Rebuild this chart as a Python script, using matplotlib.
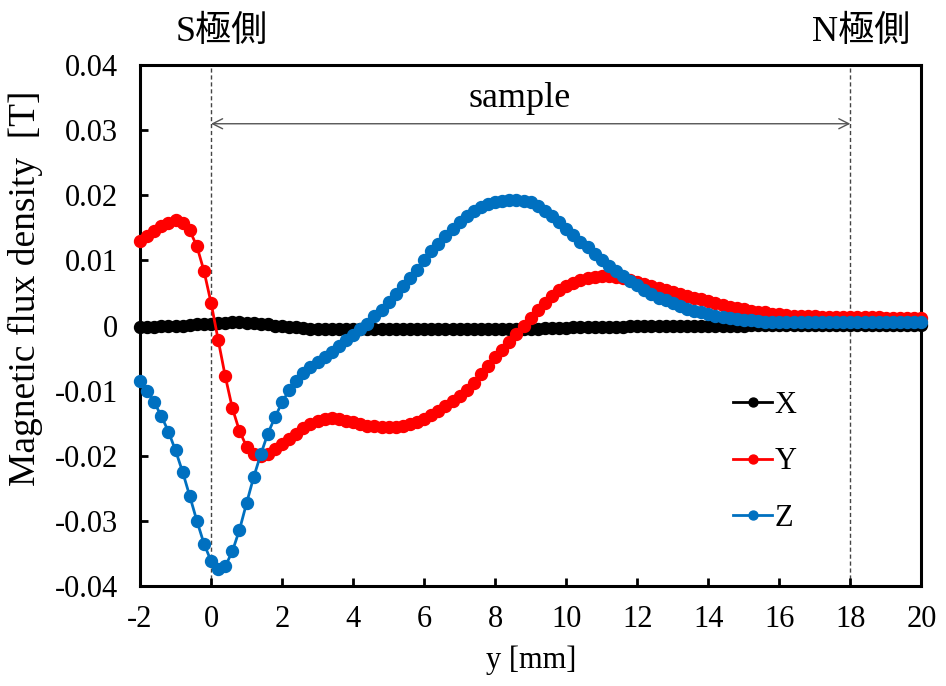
import numpy as np
import matplotlib
matplotlib.use("Agg")
import matplotlib.pyplot as plt
from matplotlib.ticker import FuncFormatter

plt.rcParams['font.family'] = ['Liberation Serif', 'Noto Sans CJK JP']
plt.rcParams['axes.unicode_minus'] = False

# Position along the sample [mm], 0.2 mm step
pos_mm = np.round(np.arange(-2.0, 20.0001, 0.2), 1)

# Flux density components [T]
bx = [
    -0.0003, -0.0002, -0.0002, -0.0001, -0.0001, 0.0000, 0.0000, 0.0001, 0.0002, 0.0002,
    0.0003, 0.0004, 0.0004, 0.0005, 0.0005, 0.0004, 0.0004, 0.0003, 0.0002, 0.0000,
    -0.0001, -0.0002, -0.0003, -0.0004, -0.0005, -0.0005, -0.0006, -0.0006, -0.0006, -0.0006,
    -0.0006, -0.0006, -0.0006, -0.0006, -0.0006, -0.0006, -0.0006, -0.0006, -0.0006, -0.0006,
    -0.0006, -0.0006, -0.0006, -0.0006, -0.0006, -0.0006, -0.0006, -0.0006, -0.0006, -0.0006,
    -0.0006, -0.0006, -0.0006, -0.0005, -0.0005, -0.0005, -0.0005, -0.0004, -0.0004, -0.0004,
    -0.0004, -0.0003, -0.0003, -0.0003, -0.0003, -0.0002, -0.0002, -0.0002, -0.0002, -0.0001,
    -0.0001, -0.0001, -0.0001, -0.0001, 0.0000, 0.0000, 0.0000, 0.0000, 0.0000, 0.0000,
    0.0000, 0.0000, 0.0000, 0.0000, 0.0000, 0.0000, 0.0001, 0.0001, 0.0001, 0.0001,
    0.0001, 0.0001, 0.0001, 0.0001, 0.0001, 0.0001, 0.0001, 0.0001, 0.0001, 0.0001,
    0.0001, 0.0001, 0.0001, 0.0001, 0.0001, 0.0001, 0.0001, 0.0001, 0.0001, 0.0001,
    0.0001,
]

by = [
    0.0130, 0.0137, 0.0145, 0.0153, 0.0158, 0.0162, 0.0157, 0.0146, 0.0122, 0.0084,
    0.0035, -0.0022, -0.0078, -0.0127, -0.0162, -0.0186, -0.0197, -0.0200, -0.0197, -0.0190,
    -0.0182, -0.0174, -0.0166, -0.0158, -0.0152, -0.0147, -0.0144, -0.0142, -0.0143, -0.0146,
    -0.0149, -0.0152, -0.0154, -0.0155, -0.0156, -0.0156, -0.0156, -0.0155, -0.0152, -0.0148,
    -0.0144, -0.0138, -0.0131, -0.0123, -0.0116, -0.0108, -0.0099, -0.0088, -0.0075, -0.0062,
    -0.0049, -0.0038, -0.0026, -0.0013, 0.0000, 0.0012, 0.0024, 0.0035, 0.0045, 0.0054,
    0.0061, 0.0066, 0.0070, 0.0073, 0.0075, 0.0076, 0.0076, 0.0075, 0.0073, 0.0070,
    0.0067, 0.0064, 0.0061, 0.0058, 0.0055, 0.0052, 0.0049, 0.0046, 0.0043, 0.0040,
    0.0037, 0.0034, 0.0032, 0.0029, 0.0027, 0.0025, 0.0023, 0.0021, 0.0020, 0.0018,
    0.0017, 0.0016, 0.0015, 0.0015, 0.0014, 0.0014, 0.0013, 0.0013, 0.0013, 0.0013,
    0.0013, 0.0013, 0.0013, 0.0013, 0.0013, 0.0012, 0.0012, 0.0012, 0.0012, 0.0011,
    0.0011,
]

bz = [
    -0.0085, -0.0100, -0.0118, -0.0139, -0.0163, -0.0192, -0.0225, -0.0262, -0.0300, -0.0335,
    -0.0362, -0.0374, -0.0370, -0.0347, -0.0314, -0.0273, -0.0233, -0.0198, -0.0166, -0.0141,
    -0.0118, -0.0099, -0.0085, -0.0073, -0.0063, -0.0056, -0.0049, -0.0041, -0.0032, -0.0023,
    -0.0015, -0.0006, 0.0003, 0.0014, 0.0024, 0.0036, 0.0048, 0.0061, 0.0073, 0.0086,
    0.0100, 0.0114, 0.0126, 0.0138, 0.0149, 0.0159, 0.0169, 0.0176, 0.0182, 0.0187,
    0.0190, 0.0192, 0.0193, 0.0193, 0.0192, 0.0189, 0.0183, 0.0176, 0.0168, 0.0159,
    0.0149, 0.0139, 0.0129, 0.0120, 0.0110, 0.0100, 0.0092, 0.0084, 0.0076, 0.0069,
    0.0062, 0.0055, 0.0049, 0.0043, 0.0039, 0.0034, 0.0030, 0.0026, 0.0023, 0.0020,
    0.0017, 0.0015, 0.0013, 0.0011, 0.0010, 0.0009, 0.0008, 0.0007, 0.0006, 0.0006,
    0.0005, 0.0005, 0.0005, 0.0005, 0.0005, 0.0005, 0.0005, 0.0005, 0.0005, 0.0006,
    0.0006, 0.0006, 0.0006, 0.0006, 0.0006, 0.0006, 0.0005, 0.0005, 0.0005, 0.0005,
    0.0005,
]

series_labels = ["X", "Y", "Z"]
series_colors = ["#000000", "#FF0000", "#0070C0"]

x_ticks = np.arange(-2, 21, 2)
y_ticks = np.round(np.arange(-0.04, 0.0401, 0.01), 2)

pole_positions = [0, 18]
pole_labels = ["S極側", "N極側"]
span_label = "sample"

FS = 22
FS_BIG = 26

fig = plt.figure(figsize=(9.46, 6.86), dpi=100)
ax = fig.add_axes([0.148, 0.146, 0.826, 0.759])

for vals, lab, col in zip([bx, by, bz], series_labels, series_colors):
    ax.plot(pos_mm, vals, '-o', color=col, lw=2.0, ms=8.6, mec=col, mfc=col,
            label=lab, clip_on=False, zorder=3)

ax.set_xlim(-2, 20)
ax.set_ylim(-0.04, 0.04)
ax.set_xticks(x_ticks)
ax.set_yticks(y_ticks)
ax.yaxis.set_major_formatter(FuncFormatter(lambda v, p: "0" if abs(v) < 1e-9 else f"{v:.2f}"))
ax.xaxis.set_major_formatter(FuncFormatter(lambda v, p: f"{int(round(v))}"))

for s in ax.spines.values():
    s.set_linewidth(2.2)
ax.tick_params(direction='in', length=6, width=2.0, labelsize=FS)
ax.tick_params(axis='x', pad=14)
ax.tick_params(axis='y', pad=16)

ax.set_xlabel("y [mm]", fontsize=FS, labelpad=8)
ax.set_ylabel("Magnetic flux density  [T]", fontsize=27)
ax.yaxis.set_label_coords(-0.124, 0.572)

# pole positions
for xp in pole_positions:
    ax.axvline(xp, color='#444444', lw=1.0, ls=(0, (3, 2)), zorder=1)

for xp, lab in zip(pole_positions, pole_labels):
    ax.text(xp + 0.3, 1.032, lab, transform=ax.get_xaxis_transform(), ha='center',
            va='bottom', fontsize=FS_BIG, family=['Liberation Serif', 'Noto Sans CJK JP'])

# sample span
ax.annotate("", xy=(pole_positions[0], 0.031), xytext=(pole_positions[1], 0.031),
            arrowprops=dict(arrowstyle='<->', color='#555555', lw=1.0,
                            shrinkA=0, shrinkB=0, mutation_scale=18))
ax.text(8.7, 0.0324, span_label, ha='center', va='bottom', fontsize=FS_BIG)

leg = ax.legend(loc='center', bbox_to_anchor=(0.8, 0.238), frameon=False,
                fontsize=FS, handlelength=1.25, handletextpad=0.1, labelspacing=0.9,
                markerscale=0.75)

fig.savefig("out.png", dpi=100)
